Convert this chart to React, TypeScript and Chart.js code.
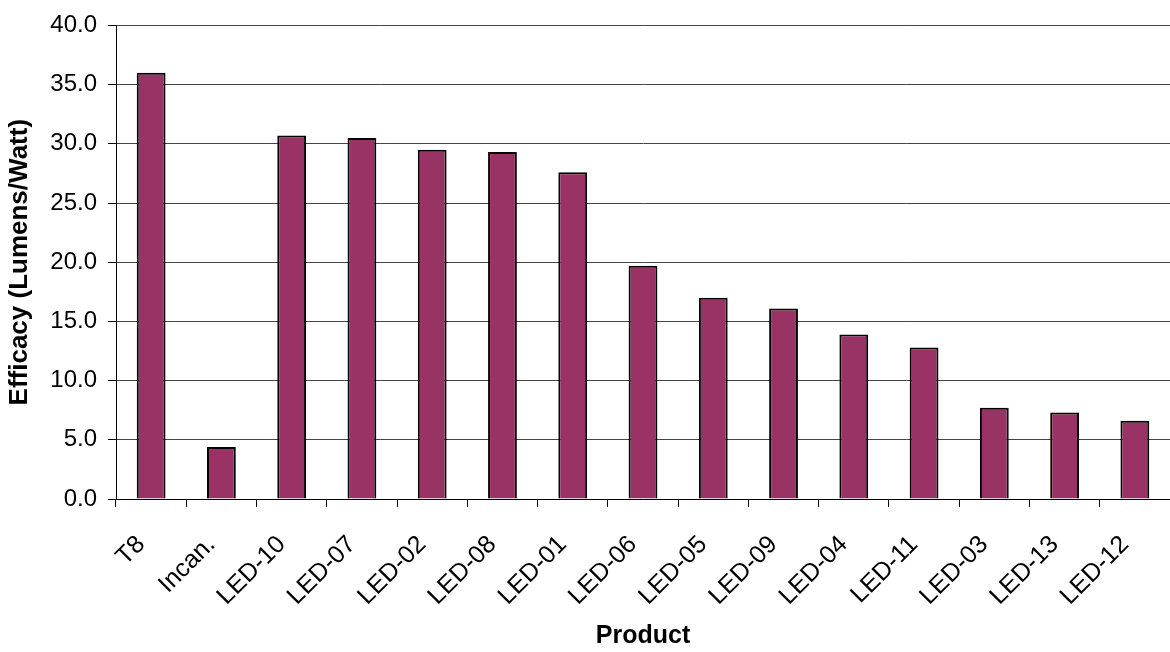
import React, { useEffect, useRef } from "react";
import { Chart, registerables } from "chart.js";

Chart.register(...registerables);

const categories = [
  "T8", "Incan.", "LED-10", "LED-07", "LED-02", "LED-08", "LED-01", "LED-06",
  "LED-05", "LED-09", "LED-04", "LED-11", "LED-03", "LED-13", "LED-12",
];
const efficacy = [36.0, 4.4, 30.7, 30.5, 29.5, 29.3, 27.6, 19.7, 17.0, 16.1, 13.9, 12.8, 7.7, 7.3, 6.6];
const yMin = 0;
const yMax = 40;
const yStep = 5;
const yTitle = "Efficacy (Lumens/Watt)";
const xTitle = "Product";

const FONT = "'Liberation Sans', Arial, sans-serif";

export default function App() {
  const ref = useRef<HTMLCanvasElement | null>(null);

  useEffect(() => {
    if (!ref.current) return;
    const chart = new Chart(ref.current, {
      type: "bar",
      data: {
        labels: categories,
        datasets: [
          {
            data: efficacy,
            backgroundColor: "#993366",
            borderColor: "#000000",
            borderWidth: 2,
            barPercentage: 0.41,
            categoryPercentage: 1,
          },
        ],
      },
      options: {
        responsive: false,
        animation: false,
        layout: { padding: { top: 21, right: 0, left: 0, bottom: 0 } },
        plugins: {
          legend: { display: false },
          tooltip: { enabled: false },
        },
        scales: {
          x: {
            afterFit: (s: any) => {
              s.height = 153;
              s.paddingRight = 0;
              s.paddingLeft = 0;
            },
            grid: {
              drawOnChartArea: false,
              tickLength: 8,
              tickColor: "#000",
              offset: true,
            },
            border: { color: "#000", width: 1 },
            ticks: {
              color: "#000",
              font: { family: FONT, size: 25 },
              minRotation: 45,
              maxRotation: 45,
              padding: 23,
              labelOffset: -10,
              autoSkip: false,
            },
            title: {
              display: true,
              text: xTitle,
              color: "#000",
              font: { family: FONT, size: 25, weight: "bold" },
              padding: { top: 4, bottom: 1 },
            },
          },
          y: {
            min: yMin,
            max: yMax,
            afterFit: (s: any) => {
              s.width = 116;
            },
            grid: {
              color: "#444444",
              lineWidth: 1,
              tickLength: 8,
              tickColor: "#000",
            },
            border: { color: "#000", width: 1 },
            ticks: {
              stepSize: yStep,
              color: "#000",
              font: { family: FONT, size: 24 },
              padding: 11,
              callback: (v: any) => Number(v).toFixed(1),
            },
            title: {
              display: true,
              text: yTitle,
              color: "#000",
              font: { family: FONT, size: 26, weight: "bold" },
              padding: { top: 4, bottom: 4 },
            },
          },
        },
      },
    });
    return () => chart.destroy();
  }, []);

  return (
    <div style={{ position: "absolute", left: 0, top: 0, width: 1170, height: 652, background: "#fff" }}>
      <canvas ref={ref} width={1170} height={652} style={{ display: "block" }} />
    </div>
  );
}
